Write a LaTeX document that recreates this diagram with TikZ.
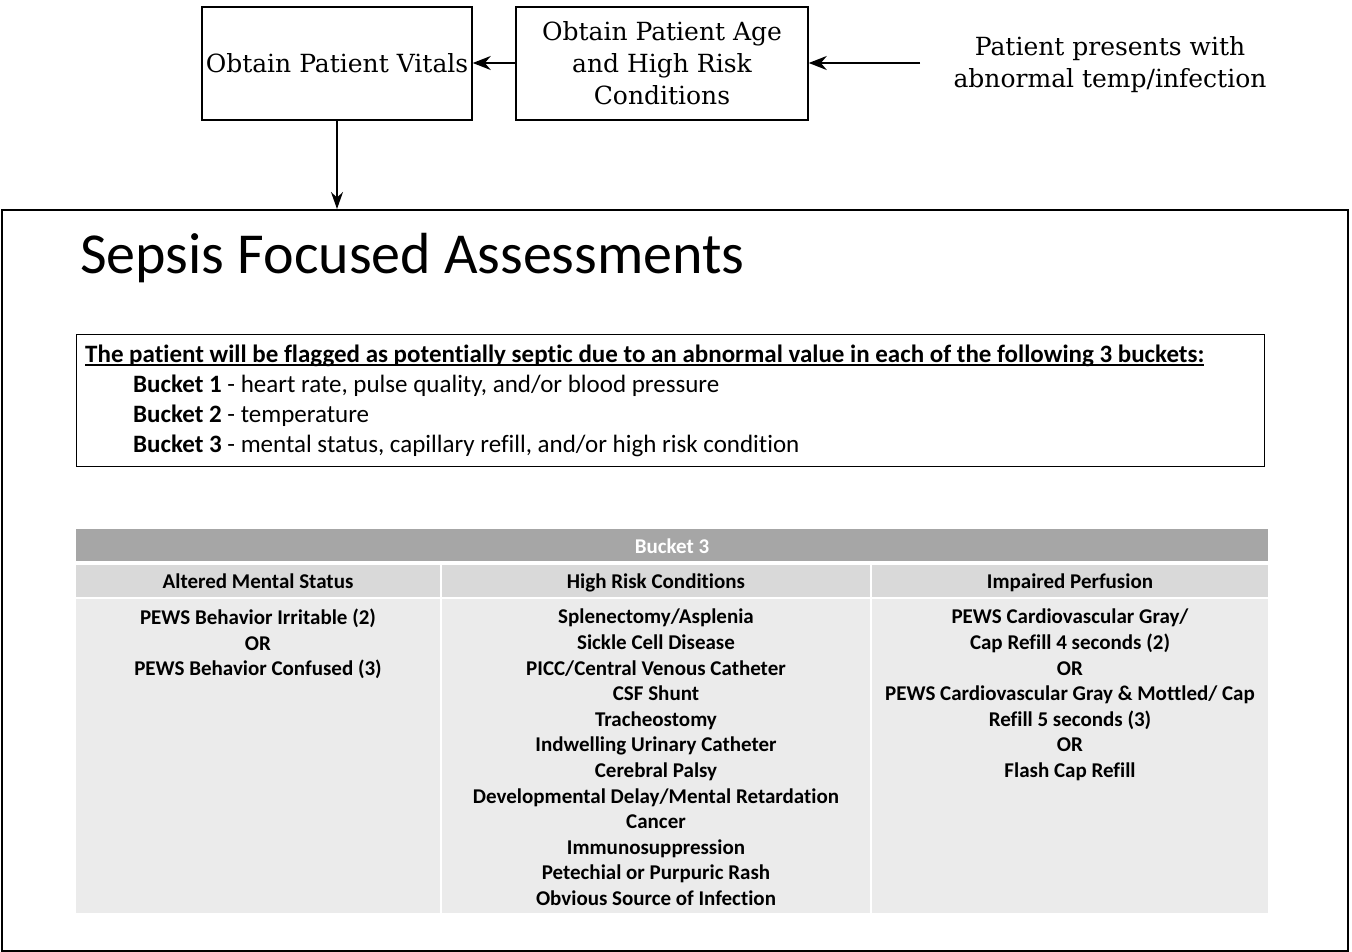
\documentclass[tikz,border=0pt]{standalone}
\usepackage{fontspec}
\setmainfont{Carlito}[Ligatures=CommonOff]
\newfontfamily\topfont{DejaVu Serif}
\usetikzlibrary{arrows.meta}
\definecolor{headgray}{HTML}{A6A6A6}
\definecolor{midgray}{HTML}{D9D9D9}
\definecolor{bodygray}{HTML}{EBEBEB}
\begin{document}
\begin{tikzpicture}[x=1pt,y=-1pt,
  flowbox/.style={draw, line width=1.5pt, inner sep=0pt, font=\topfont\fontsize{25}{32}\selectfont, align=center},
  flowarrow/.style={line width=2pt, -{Stealth[length=18pt,width=14pt]}},
  cellhead/.style={font=\bfseries\fontsize{21}{25}\selectfont, inner sep=0pt, anchor=base},
  cellbody/.style={font=\bfseries\fontsize{21}{25.6}\selectfont, align=center, anchor=north, inner sep=0pt},
  ruletext/.style={anchor=base west, inner sep=0pt, font=\fontsize{25}{30}\selectfont},
]
\useasboundingbox (0,0) rectangle (1352,952);
% flow boxes
\node[flowbox, minimum width=270pt, minimum height=113pt] (vitals) at (337,63.5) {Obtain Patient Vitals};
\node[flowbox, minimum width=292pt, minimum height=113pt] (age) at (662,63.5) {Obtain Patient Age\\and High Risk\\Conditions};
\node[font=\topfont\fontsize{25}{32}\selectfont, align=center, inner sep=0pt] (present) at (1110,65) {Patient presents with\\abnormal temp/infection};
\coordinate (pstart) at (920,63);
\draw[flowarrow] (pstart) -- (age.east |- pstart);
\draw[flowarrow] (age.west |- pstart) -- (vitals.east |- pstart);
% big frame
\node[draw, line width=2pt, minimum width=1346pt, minimum height=741pt, anchor=north west, inner sep=0pt] (sepsis) at (1,209) {};
\draw[line width=1.3pt, -{Stealth[length=17pt,width=12pt]}] (vitals.south) -- (vitals.south |- sepsis.north);
% title
\node[anchor=base west, inner sep=0pt, font=\fontsize{58}{66}\selectfont] (title) at (80,273) {Sepsis Focused Assessments};
% rules box
\node[draw, line width=1pt, minimum width=1188pt, minimum height=132pt, anchor=north west, inner sep=0pt] (rulebox) at (76,334) {};
\node[ruletext, font=\bfseries\fontsize{25}{30}\selectfont] (flag) at (85,362) {The patient will be flagged as potentially septic due to an abnormal value in each of the following 3 buckets:};
\draw[line width=1.2pt] ([yshift=-3pt]flag.base west) -- ([yshift=-3pt]flag.base east);
\node[ruletext] (b1) at (133,392) {\textbf{Bucket 1} - heart rate, pulse quality, and/or blood pressure};
\node[ruletext] (b2) at (133,422) {\textbf{Bucket 2} - temperature};
\node[ruletext] (b3line) at (133,452) {\textbf{Bucket 3} - mental status, capillary refill, and/or high risk condition};
% table
\fill[headgray] (76,529) rectangle (1268,561);
\node[cellhead, text=white] (bhead) at (672,553) {Bucket 3};
\fill[midgray] (76,565) rectangle (440,597);
\fill[midgray] (442,565) rectangle (870,597);
\fill[midgray] (872,565) rectangle (1268,597);
\fill[bodygray] (76,599) rectangle (440,913);
\fill[bodygray] (442,599) rectangle (870,913);
\fill[bodygray] (872,599) rectangle (1268,913);
\node[cellhead] (h1) at (258,588) {Altered Mental Status};
\node[cellhead] (h2) at (656,588) {High Risk Conditions};
\node[cellhead] (h3) at (1070,588) {Impaired Perfusion};
\node[cellbody] (c1) at (258,609) {PEWS Behavior Irritable (2)\\OR\\PEWS Behavior Confused (3)};
\node[cellbody] (c2) at (656,609) {Splenectomy/Asplenia\\Sickle Cell Disease\\PICC/Central Venous Catheter\\CSF Shunt\\Tracheostomy\\Indwelling Urinary Catheter\\Cerebral Palsy\\Developmental Delay/Mental Retardation\\Cancer\\Immunosuppression\\Petechial or Purpuric Rash\\Obvious Source of Infection};
\node[cellbody] (c3) at (1070,609) {PEWS Cardiovascular Gray/\\Cap Refill 4 seconds (2)\\OR\\PEWS Cardiovascular Gray \& Mottled/ Cap\\Refill 5 seconds (3)\\OR\\Flash Cap Refill};
\end{tikzpicture}
\end{document}
